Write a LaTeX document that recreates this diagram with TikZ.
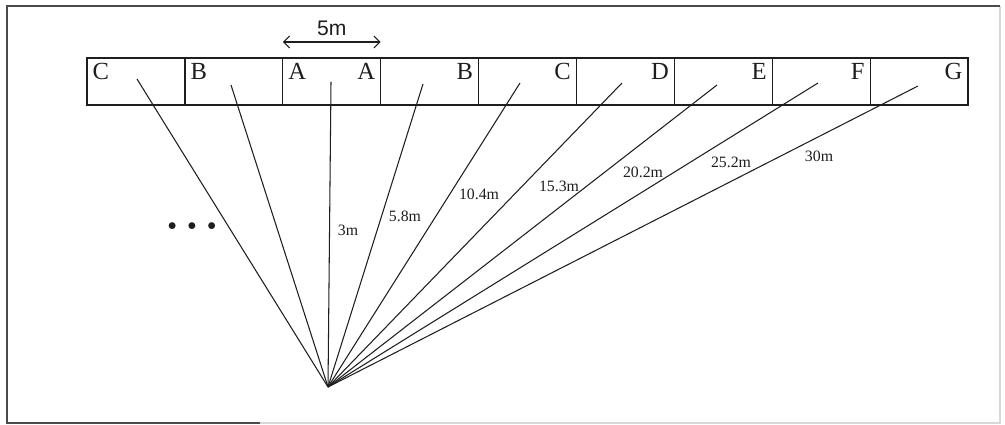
\documentclass[tikz,border=0pt]{standalone}
\usepackage{fontspec}
\setmainfont{Liberation Serif}
\newfontfamily\dimfont{Liberation Sans}
\usetikzlibrary{arrows.meta,calc}
\definecolor{ink}{HTML}{1E1E1E}
\definecolor{frame}{HTML}{4A4A4A}
\definecolor{faint}{HTML}{D8D8D8}

\begin{document}
\begin{tikzpicture}[
    x=0.02cm, y=-0.02cm,
    cell/.style={draw=ink, line width=0.7pt, minimum width=1.958cm, minimum height=0.94cm,
                 inner sep=0pt, outer sep=0pt},
    letter/.style={font=\fontsize{14}{14}\selectfont, text=ink, inner sep=3pt},
    ray/.style={draw=ink, line width=0.6pt},
    dist/.style={font=\fontsize{9}{9}\selectfont, text=ink, inner sep=1pt},
    span/.style={draw=ink, line width=0.6pt, {Straight Barb[length=1.2mm,width=2.4mm]}-{Straight Barb[length=1.2mm,width=2.4mm]}},
  ]
  \useasboundingbox (0,0) rectangle (1005,425);

  % Rahmen, rechts und unten nur schwach
  \draw[faint, line width=0.6pt] (260,423) -- (1000,423) -- (1000,6);
  \draw[frame, line width=1.1pt] (260,423) -- (7,423) -- (7,6) -- (1000,6);

  % Streifen aus neun Feldern
  \foreach \i in {1,...,9} \node[cell] (c\i) at ({87 + 97.9*(\i-0.5)}, 81.5) {};

  % Buchstaben in den Feldern
  \node[letter, anchor=north west] (lC) at (c1.north west) {C};
  \node[letter, anchor=north west] (lB) at (c2.north west) {B};
  \node[letter, anchor=north west] (lA) at (c3.north west) {A};
  \node[letter, anchor=north east] (rA) at (c3.north east) {A};
  \node[letter, anchor=north east] (rB) at (c4.north east) {B};
  \node[letter, anchor=north east] (rC) at (c5.north east) {C};
  \node[letter, anchor=north east] (rD) at (c6.north east) {D};
  \node[letter, anchor=north east] (rE) at (c7.north east) {E};
  \node[letter, anchor=north east] (rF) at (c8.north east) {F};
  \node[letter, anchor=north east] (rG) at (c9.north east) {G};

  % Feldbreite
  \coordinate (wl) at ([yshift=0.32cm]c3.north west);
  \coordinate (wr) at ([yshift=0.32cm]c3.north east);
  \draw[span] (wl) -- (wr);
  \node[font=\dimfont\fontsize{12}{12}\selectfont, text=ink] (w5) at ($(wl)!0.5!(wr) + (0,-14)$) {5m};

  % Strahlen vom gemeinsamen Punkt
  \coordinate (src) at (328,387);
  \foreach \n/\x/\y in {lc/137/79, lb/231/85, a/331/82, rb/423/84, rc/520/83,
                        rd/622/83, re/717/85, rf/818/83, rg/918/86} {
    \coordinate (e\n) at (\x,\y);
    \draw[ray] (src) -- (e\n);
  }

  % Entfernungen an den Strahlen
  \node[dist] (d1) at (348,230) {3m};
  \node[dist] (d2) at (405,216) {5.8m};
  \node[dist] (d3) at (479,194) {10.4m};
  \node[dist] (d4) at (559,186) {15.3m};
  \node[dist] (d5) at (643,172) {20.2m};
  \node[dist] (d6) at (731,162) {25.2m};
  \node[dist] (d7) at (819,156) {30m};

  \node[text=ink] (more) at (192,227) {$\bullet\hspace{0.14cm}\bullet\hspace{0.14cm}\bullet$};

\end{tikzpicture}
\end{document}
